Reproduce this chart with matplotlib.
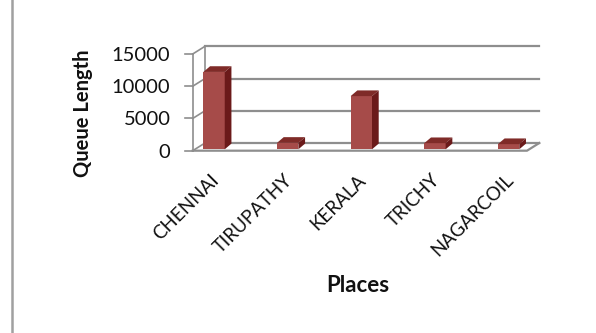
import numpy as np
import matplotlib
matplotlib.use("Agg")
import matplotlib.pyplot as plt
from matplotlib.patches import Polygon, Rectangle
from matplotlib.transforms import ScaledTranslation

places = ["CHENNAI", "TIRUPATHY", "KERALA", "TRICHY", "NAGARCOIL"]
queue_length = [12000, 1000, 8250, 950, 800]
y_ticks = [0, 5000, 10000, 15000]

front_col = "#a64b49"
top_col = "#7f2b28"
side_col = "#6b1a1a"
grid_col = "#8e8e8e"
text_col = "#111111"

plt.rcParams['font.family'] = ['Lato', 'DejaVu Sans']

W, H = 596, 333
fig = plt.figure(figsize=(W / 100, H / 100), dpi=100)

# outer chart border (runs off the right and bottom edges)
fig.patches.append(Rectangle((11.5 / W, -0.2), 1.2, 1.2 + (1 - 9.5 / H),
                             transform=fig.transFigure, fill=False,
                             edgecolor="#a0a0a0", linewidth=1.8))

# front plane of the pseudo 3d plot, in pixels
left, right, bottom, top = 192.7, 527, 150.7, 54
ax = fig.add_axes([left / W, (H - bottom) / H, (right - left) / W, (bottom - top) / H])
ax.set_xlim(-0.29, 4.25)
ax.set_ylim(0, 15000)
for s in ax.spines.values():
    s.set_visible(False)
ax.patch.set_alpha(0)

# pixel -> data conversion for depth offsets
px_x = (right - left) / (4.25 + 0.29)
px_y = (bottom - top) / 15000
wall_dx, wall_dy = 12.3 / px_x, 7.7 / px_y
bar_dx, bar_dy = 6.7 / px_x, 5.7 / px_y
base = 1.4 / px_y
x0, x1 = ax.get_xlim()

# back wall gridlines + side wall connectors
for v in y_ticks:
    ax.plot([x0 + wall_dx, x1 + wall_dx], [v + wall_dy, v + wall_dy],
            color=grid_col, lw=1.6, clip_on=False, zorder=1)
    ax.plot([x0, x0 + wall_dx], [v, v + wall_dy], color=grid_col, lw=1.2,
            clip_on=False, zorder=1)
    ax.plot([x0 - 7.7 / px_x, x0], [v, v], color=grid_col, lw=1.2,
            clip_on=False, zorder=1)
ax.plot([x0, x0], [0, 15000], color=grid_col, lw=1.2, clip_on=False, zorder=1)
ax.plot([x0 + wall_dx, x0 + wall_dx], [wall_dy, 15000 + wall_dy], color=grid_col,
        lw=1.2, clip_on=False, zorder=1)
# floor
ax.plot([x0, x1, x1 + wall_dx], [0, 0, wall_dy], color=grid_col, lw=1.6,
        clip_on=False, zorder=1)

# bars
xs = np.arange(len(places))
w = 0.29
ax.bar(xs, queue_length, width=w, bottom=base, color=front_col, zorder=3)
for x, v in zip(xs, queue_length):
    t = v + base
    ax.add_patch(Polygon([(x - w / 2, t), (x + w / 2, t),
                          (x + w / 2 + bar_dx, t + bar_dy), (x - w / 2 + bar_dx, t + bar_dy)],
                         closed=True, facecolor=top_col, edgecolor="none",
                         zorder=3, clip_on=False))
    ax.add_patch(Polygon([(x + w / 2, base), (x + w / 2 + bar_dx, base + bar_dy),
                          (x + w / 2 + bar_dx, t + bar_dy), (x + w / 2, t)],
                         closed=True, facecolor=side_col, edgecolor="none",
                         zorder=3, clip_on=False))

ax.set_yticks(y_ticks)
ax.set_yticklabels([str(v) for v in y_ticks], fontsize=14.5, color=text_col)
ax.tick_params(axis="y", length=0, pad=16)
ax.set_xticks(xs)
ax.set_xticklabels(places, fontsize=13.5, color=text_col, rotation=45,
                   ha="right", va="center", rotation_mode="anchor")
ax.tick_params(axis="x", length=0, pad=19)
for lab in ax.get_xticklabels():
    lab.set_transform(lab.get_transform() + ScaledTranslation(0.02, 0, fig.dpi_scale_trans))

fig.text(82.7 / W, 1 - 113 / H, "Queue Length", rotation=90, fontsize=14.5,
         fontweight="bold", ha="center", va="center", color=text_col)
fig.text(358 / W, 1 - 286 / H, "Places", fontsize=16, fontweight="bold",
         ha="center", va="center", color=text_col)

fig.savefig("out.png", dpi=100, facecolor="white")
